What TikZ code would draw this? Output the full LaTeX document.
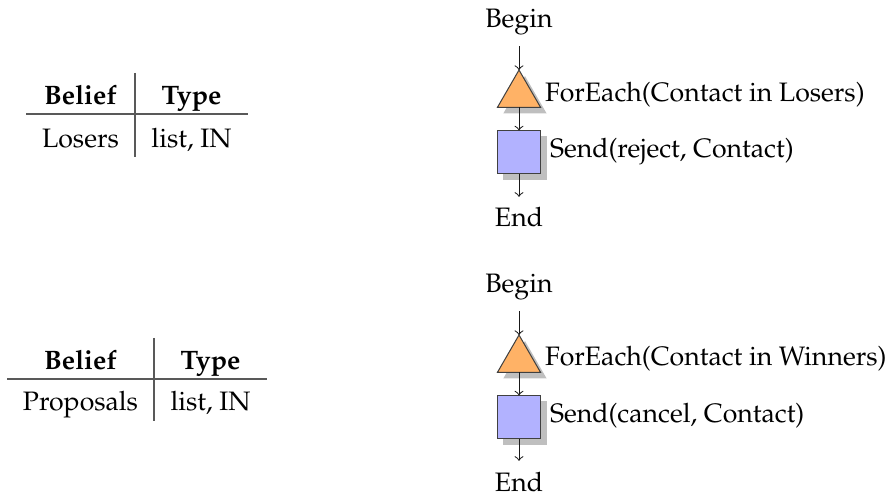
\documentclass[tikz,border=0pt]{standalone}
\usepackage[T1]{fontenc}
\usepackage{mathpazo}
\usetikzlibrary{shapes.geometric,shadows}
\begin{document}
\begin{tikzpicture}[x=0.3937pt,y=-0.3937pt,
  every node/.style={font=\fontsize{10.5pt}{12.6pt}\selectfont},
  txt/.style={inner sep=0pt, outer sep=0pt},
  rulebar/.style={draw=black!65, line width=0.6pt},
  flow/.style={->, draw=black!90, line width=0.4pt},
  term/.style={inner sep=4.3pt, outer sep=0pt},
  loopnode/.style={regular polygon, regular polygon sides=3, minimum size=19.6pt,
    inner sep=0pt, outer sep=0pt, draw=black!75, fill=orange!60, drop shadow},
  actnode/.style={rectangle, minimum size=17pt, inner sep=0pt, outer sep=0pt,
    draw=black!75, fill=blue!30, drop shadow},
]
\useasboundingbox (0,0) rectangle (887,498);

% ---------- Table 1 ----------
\node[txt, anchor=base] (h11) at (80.5,105) {\textbf{Belief}};
\node[txt, anchor=base] (h12) at (191.5,105) {\textbf{Type}};
\node[txt, anchor=base] (c11) at (80.5,148) {Losers};
\node[txt, anchor=base] (c12) at (191.5,148) {list, IN};
\draw[rulebar] (26,114) -- (248,114);
\draw[rulebar] (135,73) -- (135,157);

% ---------- Table 2 ----------
\node[txt, anchor=base] (h21) at (80.5,370) {\textbf{Belief}};
\node[txt, anchor=base] (h22) at (210.5,370) {\textbf{Type}};
\node[txt, anchor=base] (c21) at (80.5,411) {Proposals};
\node[txt, anchor=base] (c22) at (210.5,411) {list, IN};
\draw[rulebar] (7,379) -- (267,379);
\draw[rulebar] (154,338) -- (154,421);

% ---------- Flow 1 ----------
\node[term, anchor=base] (b1) at (519,28) {Begin};
\node[loopnode, anchor=north] (t1) at (519,70) {};
\node[txt, anchor=base west] (l1) at (545,102) {ForEach(Contact in Losers)};
\node[actnode] (s1) at (519,152) {};
\node[txt, anchor=base west] (m1) at (550,158) {Send(reject, Contact)};
\node[term, anchor=base] (e1) at (519,227) {End};
\draw[flow] (b1) -- (t1);
\draw[flow] (t1) -- (s1);
\draw[flow] (s1) -- (e1);

% ---------- Flow 2 ----------
\node[term, anchor=base] (b2) at (519,293) {Begin};
\node[loopnode, anchor=north] (t2) at (519,335) {};
\node[txt, anchor=base west] (l2) at (545,366) {ForEach(Contact in Winners)};
\node[actnode] (s2) at (519,417) {};
\node[txt, anchor=base west] (m2) at (550,423) {Send(cancel, Contact)};
\node[term, anchor=base] (e2) at (519,491) {End};
\draw[flow] (b2) -- (t2);
\draw[flow] (t2) -- (s2);
\draw[flow] (s2) -- (e2);
\end{tikzpicture}
\end{document}
